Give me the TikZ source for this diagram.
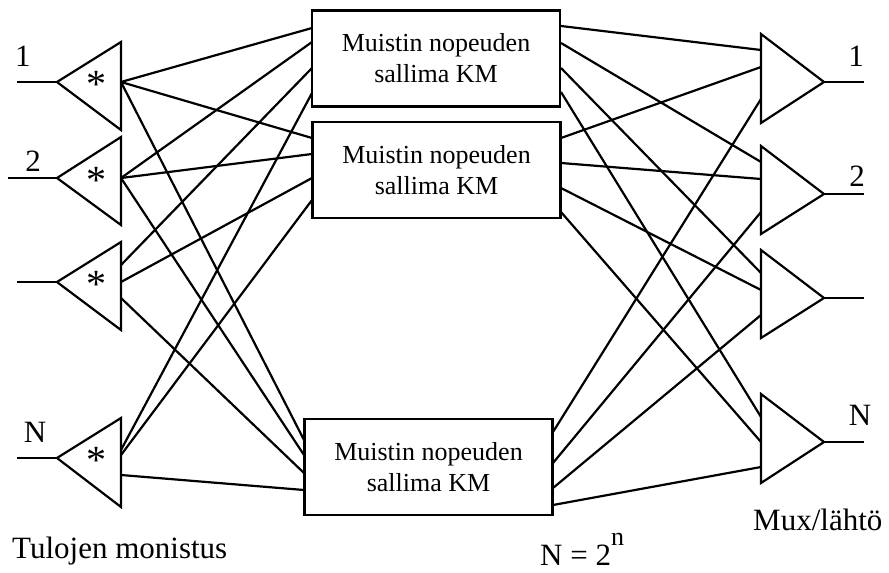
\documentclass[tikz,border=0pt]{standalone}
\usepackage{fontspec}
\setmainfont{Liberation Serif}
\tikzset{
  kmbox/.style={draw, line width=2.4pt, minimum width=248pt, minimum height=96pt,
    align=center, inner sep=0pt, font=\fontsize{26}{31}\selectfont},
  lbl/.style={font=\fontsize{31}{36}\selectfont, inner sep=0pt},
  wire/.style={line width=2.2pt},
}
\begin{document}
\begin{tikzpicture}[x=1pt, y=-1pt]
    \useasboundingbox (0,0) rectangle (889,573);

    % Memory blocks
    \node[kmbox] (km1) at (436,58.5) {Muistin nopeuden\\sallima KM};
    \node[kmbox] (km2) at (436.5,170) {Muistin nopeuden\\sallima KM};
    \node[kmbox] (km3) at (428.5,467) {Muistin nopeuden\\sallima KM};

    % Input triangles (copy)
    \draw[wire] (17,82) -- (57,82);  \draw[wire] (57,82) -- (121,42) -- (121,130) -- cycle;
    \draw[wire] (8,178) -- (57,178); \draw[wire] (57,178) -- (121,137) -- (121,225) -- cycle;
    \draw[wire] (17,282) -- (57,282); \draw[wire] (57,282) -- (121,242) -- (121,330) -- cycle;
    \draw[wire] (17,458) -- (57,458); \draw[wire] (57,458) -- (121,418) -- (121,507) -- cycle;
    \foreach \y in {82,178,282,458}
        \node[font=\fontsize{40}{42}\selectfont, inner sep=0pt] at (96,\y+2) {*};

    % Output triangles (mux)
    \draw[wire] (864,82) -- (824,82);  \draw[wire] (824,82) -- (761,34) -- (761,123) -- cycle;
    \draw[wire] (864,194) -- (824,194); \draw[wire] (824,194) -- (761,146) -- (761,234) -- cycle;
    \draw[wire] (864,298) -- (824,298); \draw[wire] (824,298) -- (761,250) -- (761,338) -- cycle;
    \draw[wire] (864,442) -- (824,442); \draw[wire] (824,442) -- (761,394) -- (761,483) -- cycle;

    % Ports
    \coordinate (in1) at (121,82);
    \coordinate (in2) at (121,178);
    \coordinate (in3a) at (121,265); \coordinate (in3b) at (121,282); \coordinate (in3c) at (121,298);
    \coordinate (inNa) at (121,450); \coordinate (inNb) at (121,455); \coordinate (inNc) at (121,475);
    \coordinate (k1a) at (312,28); \coordinate (k1b) at (312,42); \coordinate (k1c) at (312,68); \coordinate (k1d) at (312,93);
    \coordinate (k2a) at (312,138); \coordinate (k2b) at (312,154); \coordinate (k2c) at (312,178); \coordinate (k2d) at (312,200);
    \coordinate (k3a) at (304,440); \coordinate (k3b) at (304,455); \coordinate (k3c) at (304,473); \coordinate (k3d) at (304,490);
    \coordinate (o1a) at (561,26); \coordinate (o1b) at (561,43); \coordinate (o1c) at (561,68); \coordinate (o1d) at (561,92);
    \coordinate (o2a) at (561,138); \coordinate (o2b) at (561,163); \coordinate (o2c) at (561,188); \coordinate (o2d) at (561,212);
    \coordinate (o3a) at (553,432); \coordinate (o3b) at (553,463); \coordinate (o3c) at (553,488); \coordinate (o3d) at (553,505);
    \coordinate (m1a) at (761,50); \coordinate (m1b) at (761,67); \coordinate (m1c) at (761,99);
    \coordinate (m2a) at (761,162); \coordinate (m2b) at (761,179); \coordinate (m2c) at (761,212);
    \coordinate (m3a) at (761,273); \coordinate (m3b) at (761,290); \coordinate (m3c) at (761,315);
    \coordinate (mNa) at (761,417); \coordinate (mNb) at (761,442); \coordinate (mNc) at (761,467);

    % Inputs to memories
    \draw[wire] (in1) -- (k1a); \draw[wire] (in1) -- (k2a); \draw[wire] (in1) -- (k3a);
    \draw[wire] (in2) -- (k1b); \draw[wire] (in2) -- (k2b); \draw[wire] (in2) -- (k3b);
    \draw[wire] (in3a) -- (k1c); \draw[wire] (in3b) -- (k2c); \draw[wire] (in3c) -- (k3c);
    \draw[wire] (inNa) -- (k1d); \draw[wire] (inNb) -- (k2d); \draw[wire] (inNc) -- (k3d);

    % Memories to outputs
    \draw[wire] (o1a) -- (m1a); \draw[wire] (o1b) -- (m2a); \draw[wire] (o1c) -- (m3a); \draw[wire] (o1d) -- (mNa);
    \draw[wire] (o2a) -- (m1b); \draw[wire] (o2b) -- (m2b); \draw[wire] (o2c) -- (m3b); \draw[wire] (o2d) -- (mNb);
    \draw[wire] (o3a) -- (m1c); \draw[wire] (o3b) -- (m2c); \draw[wire] (o3c) -- (m3c); \draw[wire] (o3d) -- (mNc);

    % Labels
    \node[lbl] (lin1) at (23,56) {1};
    \node[lbl] (lin2) at (33,161) {2};
    \node[lbl] (linN) at (35,432) {N};
    \node[lbl] (lout1) at (856,56) {1};
    \node[lbl] (lout2) at (857,176) {2};
    \node[lbl] (loutN) at (860,415) {N};
    \node[lbl, anchor=base west] (mux) at (753,530) {Mux/lähtö};
    \node[lbl, anchor=base west] (copy) at (12,558) {Tulojen monistus};
    \node[lbl, anchor=base west] (eqn) at (540,565) {N = 2\raisebox{0.62em}{\fontsize{26}{30}\selectfont n}};
\end{tikzpicture}
\end{document}
